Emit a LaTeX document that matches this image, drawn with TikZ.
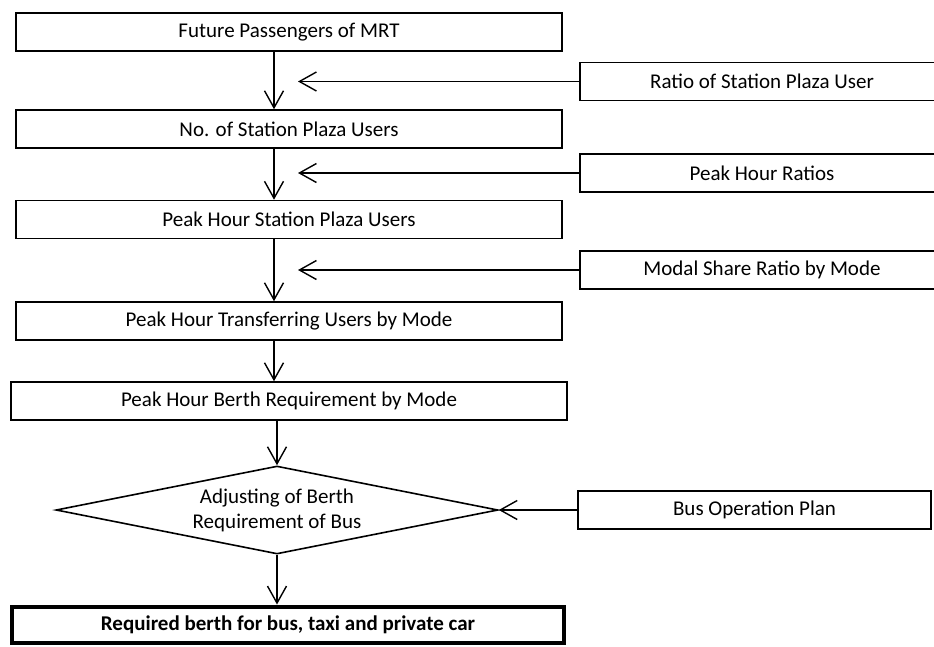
\documentclass[tikz,border=0pt]{standalone}
\usepackage{fontspec}
\setmainfont{Carlito}
\usetikzlibrary{arrows.meta,shapes.geometric}

\begin{document}
\begin{tikzpicture}[x=1pt,y=-1pt,
  box/.style={draw,line width=1.6pt,minimum height=38pt,inner sep=0pt,
              font=\fontsize{21}{25}\selectfont},
  flow/.style={line width=1.4pt,
               -{Straight Barb[length=17pt,width=19pt,line width=1.4pt]}},
  decision/.style={diamond,draw,line width=1.6pt,inner sep=0pt,
                   minimum width=442pt,minimum height=88pt},
  result/.style={box,line width=4pt,minimum height=36pt,
                 font=\fontsize{21}{25}\selectfont\bfseries}]
\useasboundingbox (0,0) rectangle (934,646);

% main column
\node[box,minimum width=546pt] (fut) at (289,32)    {Future Passengers of MRT};
\node[box,minimum width=546pt] (nos) at (289,129)   {No. of Station Plaza Users};
\node[box,minimum width=546pt] (phs) at (289,219.5) {Peak Hour Station Plaza Users};
\node[box,minimum width=546pt] (pht) at (289,321)   {Peak Hour Transferring Users by Mode};
\node[box,minimum width=556pt] (phb) at (289,401)   {Peak Hour Berth Requirement by Mode};
\node[decision] (adj) at (277,510) {};
\node[font=\fontsize{21}{25}\selectfont,align=center] (adjtxt) at (adj.center)
  {Adjusting of Berth\\Requirement of Bus};
\node[result,minimum width=552pt] (req) at (288,624.5)
  {Required berth for bus, taxi and private car};

% input boxes on the right
\node[box,minimum width=364pt] (rsp) at (762,81.5) {Ratio of Station Plaza User};
\node[box,minimum width=364pt] (phr) at (762,173)  {Peak Hour Ratios};
\node[box,minimum width=364pt] (msr) at (762,270)  {Modal Share Ratio by Mode};
\node[box,minimum width=353pt] (bop) at (754.5,510) {Bus Operation Plan};

% reference columns for the connectors
\coordinate (colx) at (274,0);
\coordinate (tipx) at (298,0);

% vertical flow
\draw[flow] (fut.south -| colx) -- (nos.north -| colx);
\draw[flow] (nos.south -| colx) -- (phs.north -| colx);
\draw[flow] (phs.south -| colx) -- (pht.north -| colx);
\draw[flow] (pht.south -| colx) -- (phb.north -| colx);
\draw[flow] (phb.south -| adj.north) -- (adj.north);
\draw[flow] (adj.south) -- (adj.south |- req.north);

% side inputs
\draw[flow] (rsp.west) -- (rsp.west -| tipx);
\draw[flow] (phr.west) -- (phr.west -| tipx);
\draw[flow] (msr.west) -- (msr.west -| tipx);
\draw[flow] (bop.west) -- (adj.east);
\end{tikzpicture}
\end{document}
